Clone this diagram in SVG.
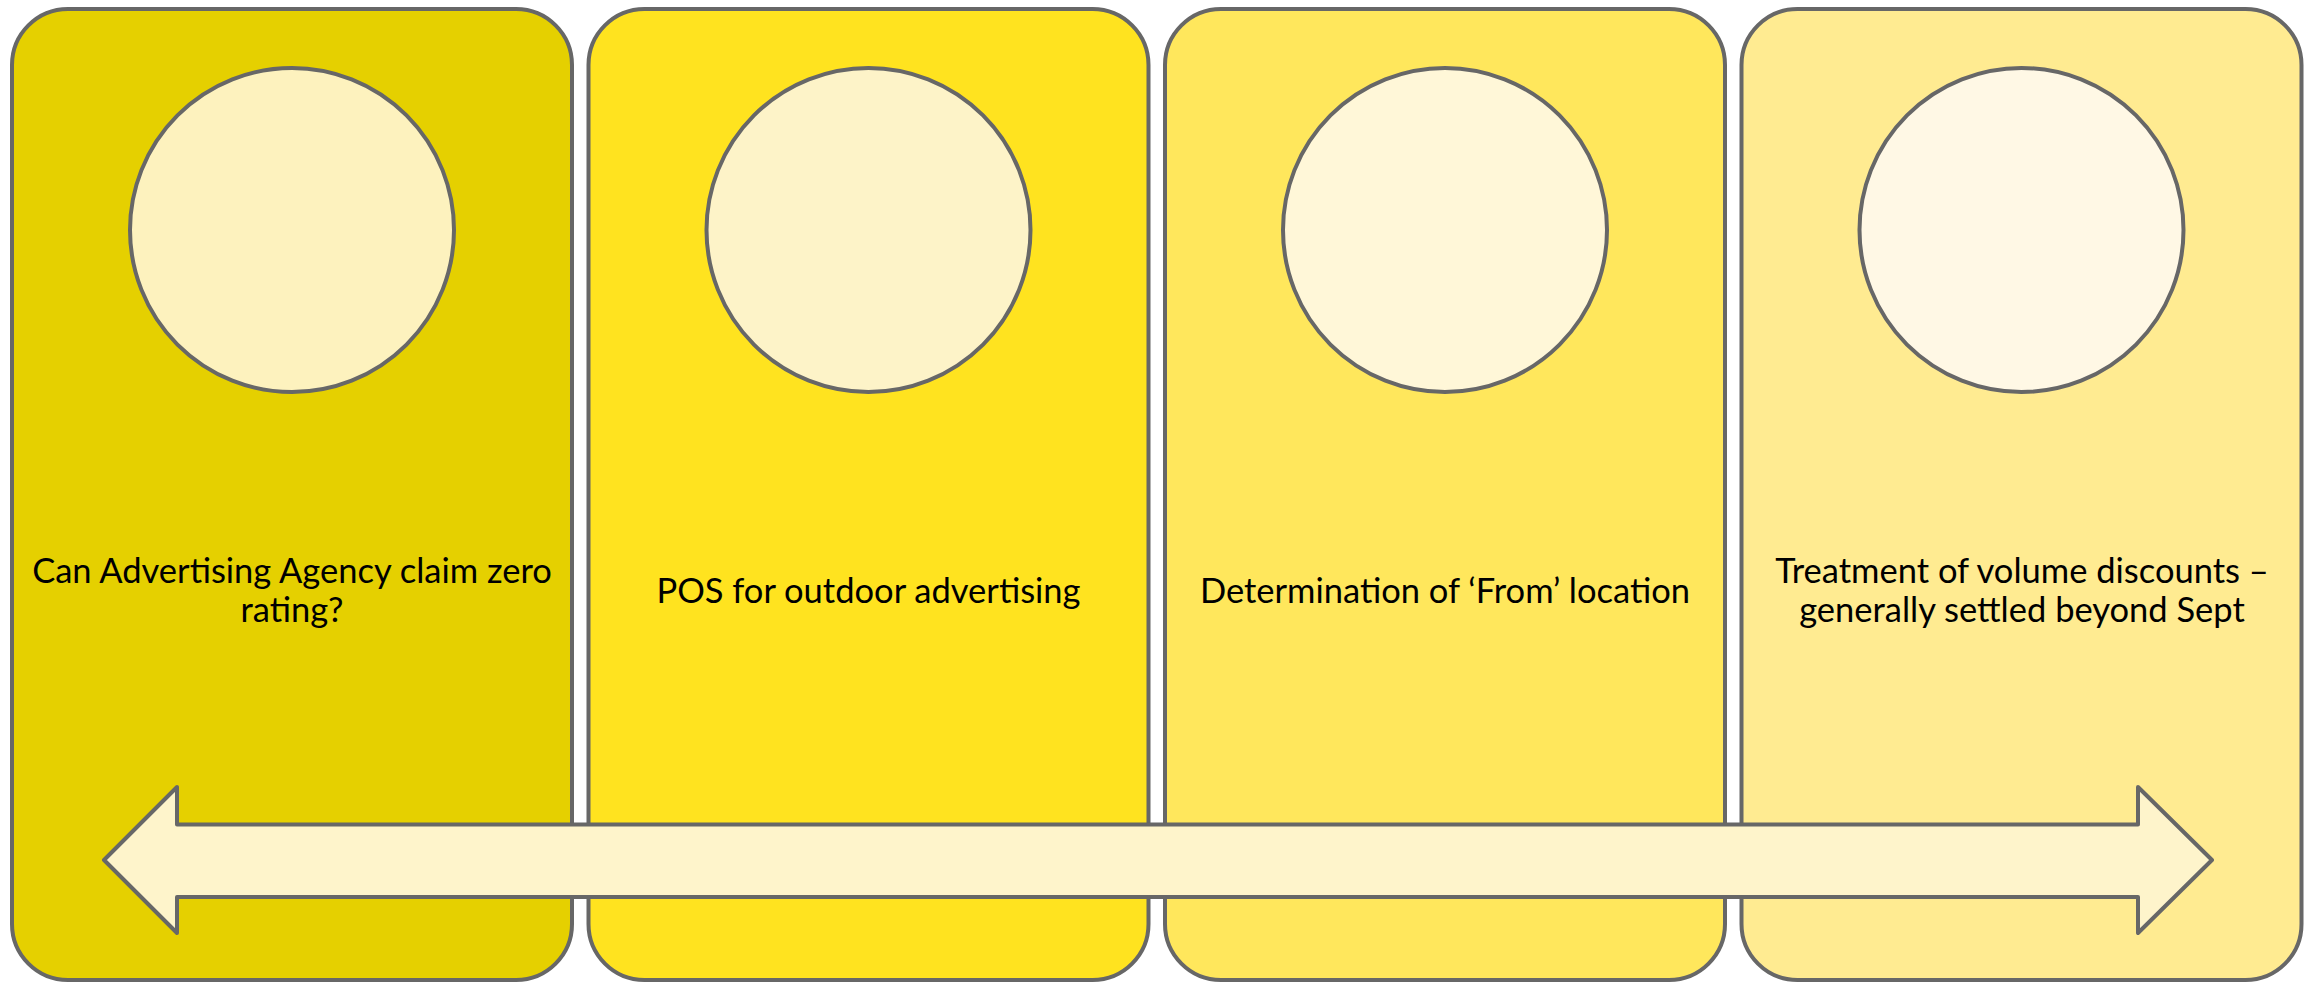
<svg xmlns="http://www.w3.org/2000/svg" width="2317" height="982" viewBox="0 0 2317 982">
<style>
.box{stroke:#676767;stroke-width:4}
.circ{stroke:#676767;stroke-width:4}
.lbl{font-family:Lato,"Liberation Sans",sans-serif;font-size:34.5px;fill:#000;text-anchor:middle}
.arrow{fill:#FEF4CB;stroke:#676767;stroke-width:4;stroke-linejoin:round}
</style>
<rect x="0" y="0" width="2317" height="982" fill="#FFFFFF"/>
<g id="node1">
<rect class="box" x="12" y="9" width="560" height="971" rx="56" ry="56" fill="#E5D000"/>
<circle class="circ" cx="292" cy="230" r="162" fill="#FDF2BE"/>
<text class="lbl" x="292" y="583">Can Advertising Agency claim zero</text>
<text class="lbl" x="292" y="622">rating?</text>
</g>
<g id="node2">
<rect class="box" x="588.5" y="9" width="560" height="971" rx="56" ry="56" fill="#FFE31F"/>
<circle class="circ" cx="868.5" cy="230" r="162" fill="#FDF3C8"/>
<text class="lbl" x="868.5" y="603">POS for outdoor advertising</text>
</g>
<g id="node3">
<rect class="box" x="1165" y="9" width="560" height="971" rx="56" ry="56" fill="#FFE75C"/>
<circle class="circ" cx="1445" cy="230" r="162" fill="#FFF7D8"/>
<text class="lbl" x="1445" y="603">Determination of ‘From’ location</text>
</g>
<g id="node4">
<rect class="box" x="1741.5" y="9" width="560" height="971" rx="56" ry="56" fill="#FFEB91"/>
<circle class="circ" cx="2021.5" cy="230" r="162" fill="#FFF8E5"/>
<text class="lbl" x="2022" y="583">Treatment of volume discounts –</text>
<text class="lbl" x="2022" y="622">generally settled beyond Sept</text>
</g>
<g id="connectors">
<polygon class="arrow" points="104,860 177,787 177,824.5 2138,824.5 2138,787 2212,860 2138,933 2138,897 177,897 177,933"/>
</g>
</svg>
